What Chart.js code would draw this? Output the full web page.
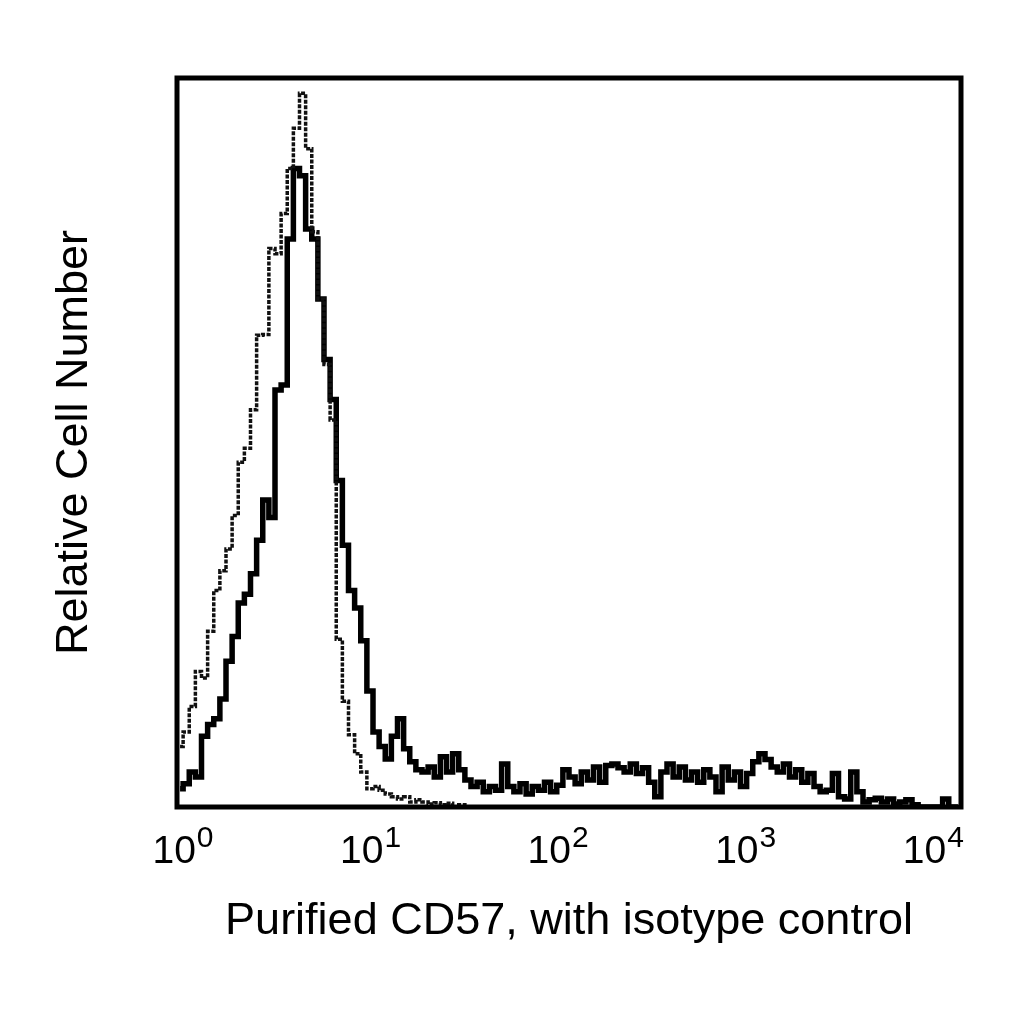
<!DOCTYPE html>
<html lang="en">
<head>
    <meta charset="UTF-8">
    <title>Purified CD57, with isotype control</title>
    <script src="https://cdn.jsdelivr.net/npm/chart.js"></script>
    <style>
        body {
            margin: 0;
            padding: 0;
            background-color: #fff;
        }
        .container {
            width: 1024px;
            height: 1024px;
        }
    </style>
</head>
<body>
    <div class="container">
        <canvas id="histogram" width="1024" height="1024"></canvas>
    </div>

    <script>
        // histogram channels: 128 channels over 4 decades
        const channelsPerDecade = 32;

        // isotype control (dotted trace), relative cell number per channel
        const isotypeCounts = [
            8.3, 10.3, 13.8, 18.6, 17.7, 24.1, 29.7, 32.4, 35.4, 40.0,
            47.3, 49.2, 54.5, 64.7, 64.8, 76.6, 75.9, 81.4, 87.6, 93.1,
            97.9, 90.3, 78.9, 69.7, 60.7, 53.1, 23.0, 14.5, 9.9, 7.3,
            4.8, 2.5, 2.8, 2.3, 1.8, 1.4, 1.1, 1.4, 0.7, 1.0,
            0.7, 0.4, 0.6, 0.3, 0.5, 0, 0.3, 0, 0, 0,
            0, 0, 0, 0, 0, 0, 0, 0, 0, 0,
            0, 0, 0, 0, 0, 0, 0, 0, 0, 0,
            0, 0, 0, 0, 0, 0, 0, 0, 0, 0,
            0, 0, 0, 0, 0, 0, 0, 0, 0, 0,
            0, 0, 0, 0, 0, 0, 0, 0, 0, 0,
            0, 0, 0, 0, 0, 0, 0, 0, 0, 0,
            0, 0, 0, 0, 0, 0, 0, 0, 0, 0,
            0, 0, 0, 0, 0, 0, 0, 0
        ];

        // purified CD57 (solid trace)
        const cd57Counts = [
            2.5, 3.2, 4.8, 4.1, 9.7, 11.3, 12.1, 14.8, 20.0, 23.4,
            28.0, 29.2, 32.0, 36.6, 42.1, 39.7, 57.2, 57.9, 77.9, 87.6,
            86.6, 79.3, 77.9, 69.7, 61.4, 55.9, 44.8, 35.9, 29.7, 27.3,
            22.8, 15.9, 10.3, 8.3, 6.6, 9.7, 12.1, 8.0, 6.2, 5.1,
            4.8, 5.5, 4.1, 6.9, 4.8, 7.3, 5.1, 3.7, 2.8, 3.4,
            2.1, 2.8, 2.3, 5.9, 2.8, 2.1, 3.2, 1.8, 2.8, 2.3,
            3.4, 2.1, 3.0, 5.1, 4.1, 3.2, 4.8, 3.7, 5.5, 3.4,
            5.7, 5.9, 5.4, 4.8, 5.9, 4.6, 5.4, 3.4, 1.4, 4.8,
            5.9, 4.1, 5.5, 3.7, 4.8, 3.4, 5.1, 4.1, 2.1, 5.5,
            3.7, 4.8, 2.8, 4.6, 6.2, 7.3, 6.5, 5.5, 4.8, 5.9,
            4.1, 5.1, 3.4, 4.6, 2.8, 2.1, 2.3, 4.6, 1.4, 1.1,
            4.8, 2.1, 0.7, 1.0, 1.2, 0.7, 1.1, 0.4, 0.7, 1.0,
            0.3, 0, 0, 0, 0, 1.1, 0, 0
        ];

        const tickValues = [1, 10, 100, 1000, 10000];
        const tickExponents = ['0', '1', '2', '3', '4'];

        const xTitle = 'Purified CD57, with isotype control';
        const yTitle = 'Relative Cell Number';

        const fontFamily = '"Liberation Sans", Arial, sans-serif';

        function toPoints(counts) {
            return counts.map((c, i) => ({
                x: Math.pow(10, (i + 0.5) / channelsPerDecade),
                y: c
            }));
        }

        // frame round the plot area
        const framePlugin = {
            id: 'frame',
            afterDatasetsDraw(chart) {
                const { ctx, chartArea } = chart;
                ctx.save();
                ctx.strokeStyle = '#000';
                ctx.lineWidth = 5;
                ctx.strokeRect(chartArea.left, chartArea.top,
                    chartArea.right - chartArea.left, chartArea.bottom - chartArea.top);
                ctx.restore();
            }
        };

        // 10^n tick labels with a raised exponent
        const powerTicksPlugin = {
            id: 'powerTicks',
            afterDraw(chart) {
                const { ctx, chartArea } = chart;
                const xScale = chart.scales.x;
                ctx.save();
                ctx.fillStyle = '#000';
                ctx.textAlign = 'left';
                ctx.textBaseline = 'alphabetic';
                tickValues.forEach((v, k) => {
                    const px = xScale.getPixelForValue(v);
                    const cx = chartArea.left + 6 + (px - chartArea.left) * 0.957;
                    ctx.font = '39px ' + fontFamily;
                    const baseW = ctx.measureText('10').width;
                    ctx.font = '30px ' + fontFamily;
                    const supW = ctx.measureText(tickExponents[k]).width;
                    const left = cx - (baseW + supW + 1) / 2;
                    ctx.font = '39px ' + fontFamily;
                    ctx.fillText('10', left, 863);
                    ctx.font = '30px ' + fontFamily;
                    ctx.fillText(tickExponents[k], left + baseW + 1, 847);
                });
                ctx.restore();
            }
        };

        const ctx = document.getElementById('histogram').getContext('2d');
        const chart = new Chart(ctx, {
            type: 'line',
            data: {
                datasets: [{
                    label: 'Isotype control',
                    data: toPoints(isotypeCounts),
                    borderColor: '#111',
                    borderWidth: 3.5,
                    borderDash: [4, 1.5],
                    stepped: 'middle',
                    pointRadius: 0,
                    fill: false,
                    order: 0
                }, {
                    label: 'Purified CD57',
                    data: toPoints(cd57Counts),
                    borderColor: '#000',
                    borderWidth: 5.5,
                    stepped: 'middle',
                    pointRadius: 0,
                    fill: false,
                    order: 1
                }]
            },
            options: {
                responsive: false,
                animation: false,
                devicePixelRatio: 1,
                layout: {
                    padding: { top: 78, right: 63, bottom: 0, left: 52 }
                },
                plugins: {
                    legend: { display: false },
                    tooltip: { enabled: false }
                },
                scales: {
                    x: {
                        type: 'logarithmic',
                        min: 1,
                        max: 10000,
                        grid: { display: false, drawTicks: false },
                        border: { display: false },
                        ticks: { display: false },
                        title: {
                            display: true,
                            text: xTitle,
                            color: '#000',
                            font: { family: fontFamily, size: 45, lineHeight: 1 },
                            padding: { top: 92.5, bottom: 79.5 }
                        }
                    },
                    y: {
                        min: 0,
                        max: 100,
                        grid: { display: false, drawTicks: false },
                        border: { display: false },
                        ticks: { display: false },
                        title: {
                            display: true,
                            text: yTitle,
                            color: '#000',
                            font: { family: fontFamily, size: 45, lineHeight: 1 },
                            padding: { top: 0, bottom: 80 }
                        }
                    }
                }
            },
            plugins: [framePlugin, powerTicksPlugin]
        });
    </script>
</body>
</html>
